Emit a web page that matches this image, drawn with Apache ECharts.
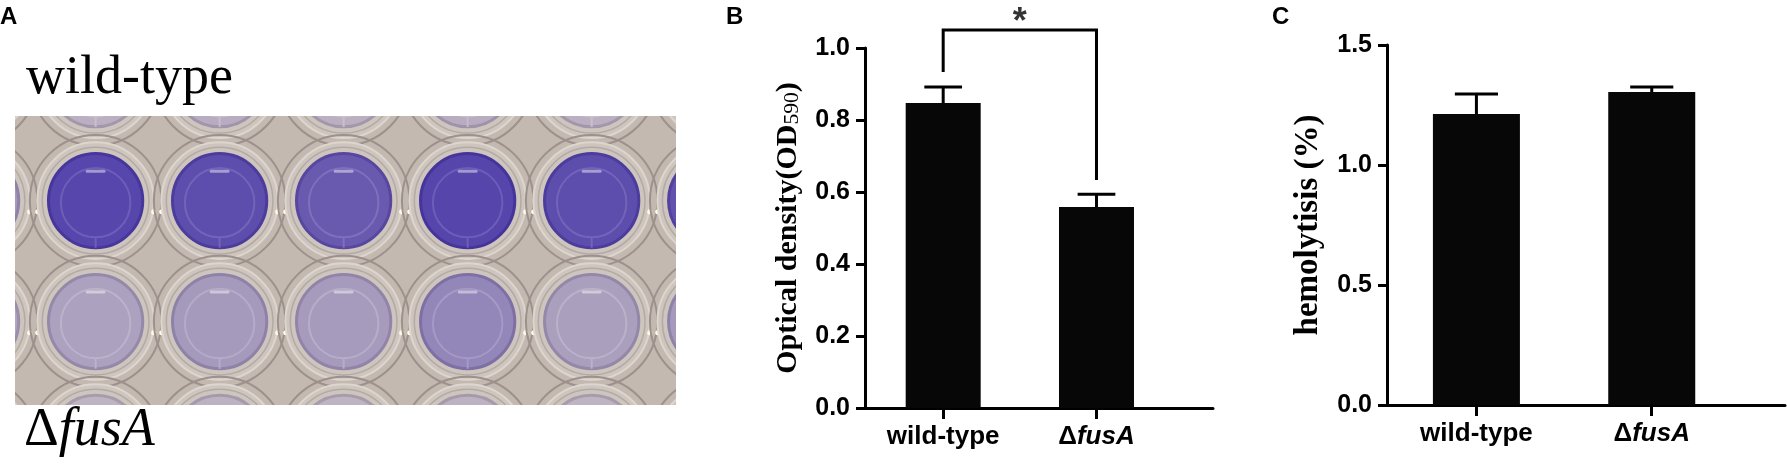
<!DOCTYPE html>
<html>
<head>
<meta charset="utf-8">
<script src="https://cdn.jsdelivr.net/npm/echarts@6/dist/echarts.min.js"></script>
<style>
html, body { margin: 0; padding: 0; background: #fff; }
#chart { width: 1787px; height: 466px; }
</style>
</head>
<body>
<div id="chart"></div>
<script>
// A: crystal violet plate, stain per well (0 = clear, 1 = deep violet)
var plateCols = [-1, 0, 1, 2, 3, 4, 5];
var stainAbove = [0.15, 0.12, 0.14, 0.12, 0.15, 0.12, 0.14];
var stainWildType = [0.3, 0.95, 0.9, 0.8, 0.96, 0.9, 0.85];
var stainFusA = [0.2, 0.24, 0.3, 0.28, 0.45, 0.25, 0.3];
var stainBelow = [0.08, 0.08, 0.1, 0.08, 0.1, 0.08, 0.1];

// B / C
var strains = ['wild-type', 'ΔfusA'];
var strainPos = [1, 2];
var biofilmMean = [0.847, 0.558];
var biofilmSd = [0.045, 0.036];
var hemolysisMean = [1.212, 1.304];
var hemolysisSd = [0.084, 0.021];
var biofilmTicks = [0, 0.2, 0.4, 0.6, 0.8, 1.0];
var hemolysisTicks = [0, 0.5, 1.0, 1.5];
var sigBracket = [0.933, 1.05, 0.633]; // left leg end, top, right leg end
var sigMark = '*';

var SANS = 'Liberation Sans, Arial, sans-serif';
var SERIF = 'Liberation Serif, Times New Roman, serif';

function hex2rgb(h) {
    return [parseInt(h.substr(1, 2), 16), parseInt(h.substr(3, 2), 16), parseInt(h.substr(5, 2), 16)];
}
function mix(a, b, t) {
    var x = hex2rgb(a), y = hex2rgb(b);
    return 'rgb(' + [0, 1, 2].map(function (i) { return Math.round(x[i] + (y[i] - x[i]) * t); }).join(',') + ')';
}

var plateData = [];
[[-1, stainAbove], [0, stainWildType], [1, stainFusA], [2, stainBelow]].forEach(function (row) {
    plateCols.forEach(function (c, i) { plateData.push([c, row[0], row[1][i]]); });
});

function renderWell(params, api) {
    var p = api.coord([api.value(0), api.value(1)]);
    var u = api.size([1, 1])[0];
    var s = api.value(2);
    var cx = p[0], cy = p[1];
    var fill = mix('#c9bfc4', '#5140aa', s);
    var edge = mix('#b0a5ae', '#41309a', s);
    var inner = mix('#d6cecf', '#6858b8', s);
    return {
        type: 'group',
        children: [
            { type: 'circle', shape: { cx: cx, cy: cy, r: u * 0.53 }, style: { fill: 'none', stroke: '#9c918d', lineWidth: 2 } },
            { type: 'circle', shape: { cx: cx, cy: cy, r: u * 0.47 }, style: { fill: '#cec5be', stroke: '#ddd6cf', lineWidth: 2 } },
            { type: 'circle', shape: { cx: cx, cy: cy, r: u * 0.43 }, style: { fill: 'none', stroke: '#b4aaa5', lineWidth: 1.5 } },
            { type: 'circle', shape: { cx: cx, cy: cy, r: u * 0.38 }, style: { fill: fill, stroke: edge, lineWidth: 3 } },
            { type: 'circle', shape: { cx: cx, cy: cy + 2, r: u * 0.28 }, style: { fill: 'none', stroke: inner, lineWidth: 2 } },
            { type: 'line', shape: { x1: cx, y1: cy + 2 + u * 0.28, x2: cx, y2: cy + u * 0.38 }, style: { stroke: inner, lineWidth: 2 } },
            { type: 'rect', shape: { x: cx - u * 0.08, y: cy - u * 0.25, width: u * 0.16, height: 3, r: 1.5 }, style: { fill: 'rgba(255,255,255,0.45)' } },
            { type: 'circle', shape: { cx: cx + u * 0.5 - 4, cy: cy + u * 0.09, r: 2.5 }, style: { fill: '#fffbe6' } },
            { type: 'circle', shape: { cx: cx + u * 0.5 + 4, cy: cy + u * 0.09, r: 2.5 }, style: { fill: '#fffbe6' } }
        ]
    };
}

function renderErrorBar(params, api) {
    var x = api.value(0), m = api.value(1), e = api.value(2);
    var base = api.coord([x, m]);
    var top = api.coord([x, m + e]);
    var half = api.size([1, 0])[0] * 0.123;
    return {
        type: 'group',
        children: [
            { type: 'line', shape: { x1: base[0], y1: base[1], x2: top[0], y2: top[1] }, style: { stroke: '#000', lineWidth: 3 } },
            { type: 'line', shape: { x1: top[0] - half, y1: top[1], x2: top[0] + half, y2: top[1] }, style: { stroke: '#000', lineWidth: 3 } }
        ]
    };
}

function strainLabel(v) {
    return v === 1 ? '{n|' + strains[0] + '}' : '{d|Δ}{i|fusA}';
}

var catLabelRich = {
    n: { fontFamily: SANS, fontWeight: 'bold', fontSize: 26, color: '#000' },
    d: { fontFamily: SANS, fontWeight: 'bold', fontSize: 26, color: '#000' },
    i: { fontFamily: SANS, fontWeight: 'bold', fontStyle: 'italic', fontSize: 26, color: '#000' }
};

function catAxis(gridIndex) {
    return {
        gridIndex: gridIndex, type: 'value', min: 0.49, max: 2.76,
        axisLine: { show: true, onZero: false, lineStyle: { color: '#000', width: 3 } },
        axisTick: { show: true, customValues: strainPos, length: 11, lineStyle: { color: '#000', width: 3 } },
        axisLabel: { show: true, customValues: strainPos, margin: 16, formatter: strainLabel, rich: catLabelRich },
        splitLine: { show: false }
    };
}

function valAxis(gridIndex, ticks, name, nameSize) {
    return {
        gridIndex: gridIndex, type: 'value', min: ticks[0], max: ticks[ticks.length - 1],
        interval: ticks[1] - ticks[0],
        axisLine: { show: true, lineStyle: { color: '#000', width: 3 } },
        axisTick: { show: true, length: 9, lineStyle: { color: '#000', width: 3 } },
        axisLabel: {
            margin: 15, color: '#000', fontFamily: SANS, fontWeight: 'bold', fontSize: 25,
            formatter: function (v) { return v.toFixed(1); }
        },
        splitLine: { show: false },
        name: name, nameLocation: 'middle', nameRotate: 90, nameGap: 62,
        nameTextStyle: {
            color: '#000', fontFamily: SERIF, fontWeight: 'bold', fontSize: nameSize,
            rich: {
                a: { fontFamily: SERIF, fontWeight: 'bold', fontSize: nameSize, color: '#000' },
                s: { fontFamily: SERIF, fontWeight: 'normal', fontSize: nameSize * 0.72, color: '#000', verticalAlign: 'bottom' }
            }
        }
    };
}

function titleText(text, left, top, style) {
    return { text: text, left: left, top: top, padding: 0, textStyle: style };
}

var panelStyle = { fontFamily: SANS, fontWeight: 'bold', fontSize: 24, color: '#000' };

var option = {
    animation: false,
    backgroundColor: '#fff',
    title: [
        titleText('A', 0, 5, panelStyle),
        titleText('B', 726, 5, panelStyle),
        titleText('C', 1272, 5, panelStyle),
        titleText('wild-type', 26, 52, { fontFamily: SERIF, fontWeight: 'normal', fontSize: 54, color: '#000' }),
        titleText('{d|Δ}{i|fusA}', 24, 404, {
            fontWeight: 'normal',
            rich: {
                d: { fontFamily: SERIF, fontWeight: 'normal', fontSize: 54, color: '#000' },
                i: { fontFamily: SERIF, fontWeight: 'normal', fontStyle: 'italic', fontSize: 54, color: '#000' }
            }
        })
    ],
    grid: [
        { left: 15, top: 116, width: 661, height: 289, show: true, backgroundColor: '#c3b9b0', borderWidth: 0 },
        { left: 865, top: 48, width: 348, height: 360 },
        { left: 1387, top: 45, width: 398, height: 360 }
    ],
    xAxis: [
        { gridIndex: 0, type: 'value', min: -0.65, max: 4.68, show: false },
        catAxis(1),
        catAxis(2)
    ],
    yAxis: [
        { gridIndex: 0, type: 'value', inverse: true, min: -0.7, max: 1.69, show: false },
        valAxis(1, biofilmTicks, '{a|Optical density(OD}{s|590}{a|)}', 30),
        valAxis(2, hemolysisTicks, 'hemolytisis (%)', 33)
    ],
    series: [
        {
            type: 'custom', xAxisIndex: 0, yAxisIndex: 0, clip: true, silent: true,
            renderItem: renderWell, data: plateData
        },
        {
            type: 'bar', xAxisIndex: 1, yAxisIndex: 1, barWidth: 75, silent: true,
            itemStyle: { color: '#070707' },
            data: strainPos.map(function (x, i) { return [x, biofilmMean[i]]; })
        },
        {
            type: 'custom', xAxisIndex: 1, yAxisIndex: 1, silent: true, clip: false,
            renderItem: renderErrorBar,
            data: strainPos.map(function (x, i) { return [x, biofilmMean[i], biofilmSd[i]]; })
        },
        {
            type: 'line', xAxisIndex: 1, yAxisIndex: 1, silent: true, clip: false, symbol: 'none',
            lineStyle: { color: '#000', width: 3, join: 'miter', cap: 'butt' },
            data: [[1, sigBracket[0]], [1, sigBracket[1]], [2, sigBracket[1]], [2, sigBracket[2]]]
        },
        {
            type: 'scatter', xAxisIndex: 1, yAxisIndex: 1, silent: true, clip: false,
            symbolSize: 1, itemStyle: { color: 'rgba(0,0,0,0)' },
            label: {
                show: true, position: 'top', distance: -12, formatter: sigMark,
                fontFamily: SANS, fontWeight: 'bold', fontSize: 36, color: '#000'
            },
            data: [[1.5, sigBracket[1]]]
        },
        {
            type: 'bar', xAxisIndex: 2, yAxisIndex: 2, barWidth: 87, silent: true,
            itemStyle: { color: '#070707' },
            data: strainPos.map(function (x, i) { return [x, hemolysisMean[i]]; })
        },
        {
            type: 'custom', xAxisIndex: 2, yAxisIndex: 2, silent: true, clip: false,
            renderItem: renderErrorBar,
            data: strainPos.map(function (x, i) { return [x, hemolysisMean[i], hemolysisSd[i]]; })
        }
    ]
};

var chart = echarts.init(document.getElementById('chart'));
chart.setOption(option);
</script>
</body>
</html>
